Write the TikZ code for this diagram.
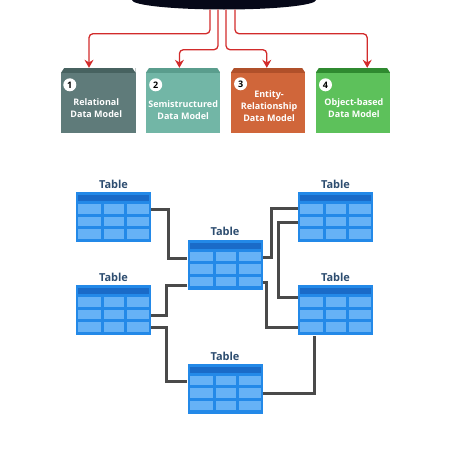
\documentclass[tikz,border=0pt]{standalone}
\usepackage{fontspec}
\setmainfont{Open Sans}
\usetikzlibrary{arrows.meta,positioning,shapes.geometric}
\definecolor{dbnavy}{HTML}{060818}
\definecolor{arrowred}{HTML}{D22B2B}
\definecolor{relfill}{HTML}{5F7B7A}
\definecolor{reltop}{HTML}{476260}
\definecolor{semifill}{HTML}{72B6A6}
\definecolor{semitop}{HTML}{5A9D8D}
\definecolor{erfill}{HTML}{D0663A}
\definecolor{ertop}{HTML}{B0502A}
\definecolor{objfill}{HTML}{5DC15B}
\definecolor{objtop}{HTML}{2F8A30}
\definecolor{tblblue}{HTML}{2389E8}
\definecolor{tblhead}{HTML}{1A6BC8}
\definecolor{tblcell}{HTML}{66B2F6}
\definecolor{tbltext}{HTML}{2D4D70}
\definecolor{linkgray}{HTML}{4A4A4A}
\tikzset{
  model/.style 2 args={rectangle, fill=#1, minimum width=74.5pt, minimum height=65pt, inner sep=0pt,
    path picture={
      \fill[#2] (path picture bounding box.north west) rectangle ([yshift=-4.5pt]path picture bounding box.north east);
      \fill[white] (path picture bounding box.north west) -- ([yshift=-4.5pt]path picture bounding box.north west) -- ([xshift=3pt]path picture bounding box.north west) -- cycle;
      \fill[white] (path picture bounding box.north east) -- ([yshift=-4.5pt]path picture bounding box.north east) -- ([xshift=-3pt]path picture bounding box.north east) -- cycle;
    }},
  num/.style={circle, fill=white, minimum size=13pt, inner sep=0pt, font=\bfseries\fontsize{9}{9}\selectfont},
  mtext/.style={text=white, align=center, inner sep=0pt, font=\bfseries\fontsize{9}{12}\selectfont},
  tbllabel/.style={text=tbltext, font=\bfseries\fontsize{11}{12}\selectfont},
  tbl/.style={rectangle, fill=tblblue, minimum width=75pt, minimum height=50pt, inner sep=0pt,
    label={[tbllabel]above:Table},
    path picture={
      \fill[tblhead] ([xshift=2pt,yshift=-3pt]path picture bounding box.north west) rectangle ([xshift=-2pt,yshift=-9pt]path picture bounding box.north east);
      \foreach \cx/\cw in {2/23,28/20,51/22}
        \foreach \cy in {12,24.5,37}
          \fill[tblcell] ([xshift=\cx pt,yshift=-\cy pt]path picture bounding box.north west) rectangle ++(\cw pt,-9.5pt);
    }},
  link/.style={draw=linkgray, line width=3pt},
  redline/.style={->, draw=arrowred, line width=1.3pt, rounded corners=4pt}
}
\begin{document}
\begin{tikzpicture}[x=1pt,y=-1pt,>={Stealth[length=8pt,width=9pt]}]
  \useasboundingbox (0,0) rectangle (450,450);
  \node[ellipse, fill=dbnavy, minimum width=184pt, minimum height=19pt, inner sep=0pt] (D) at (224,0) {};

  \node[model={relfill}{reltop}] (B1) at (98.25,100.5) {};
  \node[model={semifill}{semitop}] (B2) [right=10pt of B1] {};
  \node[model={erfill}{ertop}] (B3) [right=10pt of B2] {};
  \node[model={objfill}{objtop}] (B4) [right=10pt of B3] {};

  \node[num] (N1) at ([xshift=9pt,yshift=-17pt]B1.north west) {1};
  \node[num] (N2) at ([xshift=10pt,yshift=-17pt]B2.north west) {2};
  \node[num] (N3) at ([xshift=10pt,yshift=-16pt]B3.north west) {3};
  \node[num] (N4) at ([xshift=10pt,yshift=-17pt]B4.north west) {4};

  \node[mtext] (L1) at ([xshift=-2pt,yshift=-8pt]B1.center) {Relational\\Data Model};
  \node[mtext] (L2) at ([yshift=-10pt]B2.center) {Semistructured\\Data Model};
  \node[mtext] (L3) at ([xshift=1pt,yshift=-6pt]B3.center) {Entity-\\Relationship\\Data Model};
  \node[mtext] (L4) at ([xshift=1pt,yshift=-8pt]B4.center) {Object-based\\Data Model};

  \draw[redline] ([xshift=-14pt]D.south) -- ++(0,24) -| ([xshift=-9.25pt]B1.north);
  \draw[redline] ([xshift=-6pt]D.south) -- ++(0,40) -| ([xshift=-3.75pt]B2.north);
  \draw[redline] ([xshift=2pt]D.south) -- ++(0,40) -| ([xshift=-1.25pt]B3.north);
  \draw[redline] ([xshift=11pt]D.south) -- ++(0,24) -| ([xshift=14.25pt]B4.north);

  \node[tbl] (T1) at (113.5,217) {};
  \node[tbl] (T2) [below=43pt of T1] {};
  \node[tbl] (T3) at (225,264.5) {};
  \node[tbl] (T4) [below=74pt of T3] {};
  \node[tbl] (T5) at (335.5,217) {};
  \node[tbl] (T6) [below=43pt of T5] {};

  \draw[link] ([yshift=8pt]T1.east) -- ++(17,0) |- ([yshift=6.5pt]T3.west);
  \draw[link] ([yshift=-20.5pt]T3.west) -- ++(-21,0) |- ([yshift=-5.5pt]T2.east);
  \draw[link] ([yshift=-17.5pt]T2.east) -- ++(15,0) |- ([yshift=7.5pt]T4.west);
  \draw[link] ([yshift=7.5pt]T3.east) -- ++(9,0) |- ([yshift=9pt]T5.west);
  \draw[link] ([yshift=-5pt]T5.west) -- ++(-19,0) |- ([yshift=12.5pt]T6.west);
  \draw[link] ([yshift=-17.5pt]T3.east) -- ++(4,0) |- ([yshift=-17.5pt]T6.west);
  \draw[link] ([yshift=-4.5pt]T4.east) -| ([xshift=-21.5pt]T6.south);
\end{tikzpicture}
\end{document}
